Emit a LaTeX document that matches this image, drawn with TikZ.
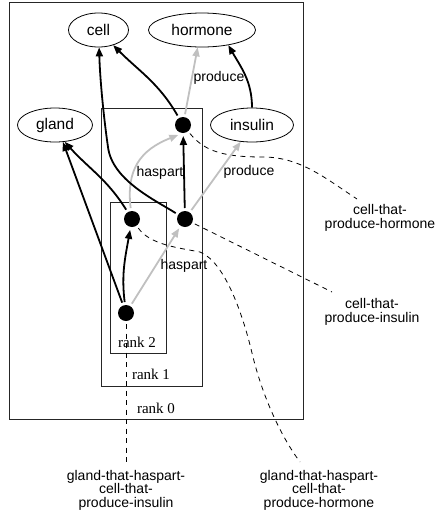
\documentclass[tikz,border=0pt]{standalone}
\usepackage{fontspec}
\setmainfont{Liberation Serif}
\setsansfont{Liberation Sans}
\usetikzlibrary{shapes.geometric,arrows.meta}
\definecolor{edgegray}{RGB}{192,192,192}
\begin{document}
\begin{tikzpicture}[x=1pt,y=-1pt,
  ell/.style={ellipse,draw,line width=0.8pt,inner sep=0pt,minimum height=34pt,font=\sffamily\fontsize{15.5}{16}\selectfont},
  dot/.style={circle,fill=black,inner sep=0pt,minimum size=16pt,outer sep=3pt},
  blk/.style={line width=1.8pt,-{Triangle[length=9pt,width=7pt]}},
  gry/.style={line width=1.8pt,draw=edgegray,-{Triangle[length=9pt,width=7pt,fill=edgegray]}},
  elab/.style={font=\sffamily\fontsize{14}{14}\selectfont,inner sep=0pt},
  ann/.style={font=\sffamily\fontsize{14}{13.5}\selectfont,align=center,inner sep=0pt},
  rlab/.style={font=\rmfamily\fontsize{15}{15}\selectfont,inner sep=0pt},
  rbox/.style={draw=black!85,line width=0.9pt},
  dsh/.style={dashed,dash pattern=on 5pt off 4.5pt,line width=0.8pt}]
\useasboundingbox (0,0) rectangle (437,512);
% cluster boxes
\draw[rbox] (9,2) rectangle (303,419);
\draw[rbox] (101,108) rectangle (202,386);
\draw[rbox] (110,202) rectangle (166,353);
\node[rlab] (r2) at (137,342) {rank 2};
\node[rlab] (r1) at (151,374) {rank 1};
\node[rlab] (r0) at (156,408) {rank 0};
% nodes
\node[ell,minimum width=60pt] (cell) at (98.5,30) {cell};
\node[ell,minimum width=107pt] (hormone) at (202,30) {hormone};
\node[ell,minimum width=75pt] (gland) at (55,125) {gland};
\node[ell,minimum width=83pt] (insulin) at (252,125) {insulin};
\node[dot] (A) at (183,125) {};
\node[dot] (B) at (185,219) {};
\node[dot] (C) at (132,219) {};
\node[dot] (D) at (126,313) {};
% annotation labels
\node[ann] (lab1) at (380,218) {cell-that-\\produce-hormone};
\node[ann] (lab2) at (372,312) {cell-that-\\produce-insulin};
\node[ann] (lab3) at (319,490) {gland-that-haspart-\\cell-that-\\produce-hormone};
\node[ann] (lab4) at (126,490) {gland-that-haspart-\\cell-that-\\produce-insulin};
\coordinate (e1) at (357,199);
\coordinate (e2) at (332,292);
\coordinate (e3) at (300,462);
\coordinate (e4) at (126,463);
% dashed annotation connectors
\draw[dsh] (A) .. controls (205,152) and (225,157) .. (263,157) .. controls (300,157) and (325,178) .. (e1);
\draw[dsh] (B) -- (e2);
\draw[dsh] (C) .. controls (150,245) and (180,248) .. (200,252) .. controls (225,262) and (243,315) .. (252,353) .. controls (262,395) and (280,435) .. (e3);
\draw[dsh] (D) -- (e4);
% gray edges
\draw[gry] (A) -- (hormone.-104);
\draw[gry] (B) -- (insulin.-124);
\draw[gry] (C) .. controls (126,170) and (140,150) .. (A.245);
\draw[gry] (D) -- (B);
% black edges
\draw[blk] (A) to[out=120,in=-45] (cell.-46);
\draw[blk] (insulin.north) to[out=90,in=-60] (hormone.-30);
\draw[blk] (B) -- (A);
\draw[blk] (B) .. controls (155,200) and (112,180) .. (108,147) .. controls (104,120) and (100,80) .. (cell.-88);
\draw[blk] (C) to[out=122,in=-48] (gland.-60);
\draw[blk] (D) -- (gland.-65);
\draw[blk] (D) to[out=97,in=-100] (C);
% edge labels
\node[elab] (p1) at (219,78) {produce};
\node[elab] (h1) at (160,173) {haspart};
\node[elab] (p2) at (249,172) {produce};
\node[elab] (h2) at (184,266) {haspart};
\end{tikzpicture}
\end{document}
